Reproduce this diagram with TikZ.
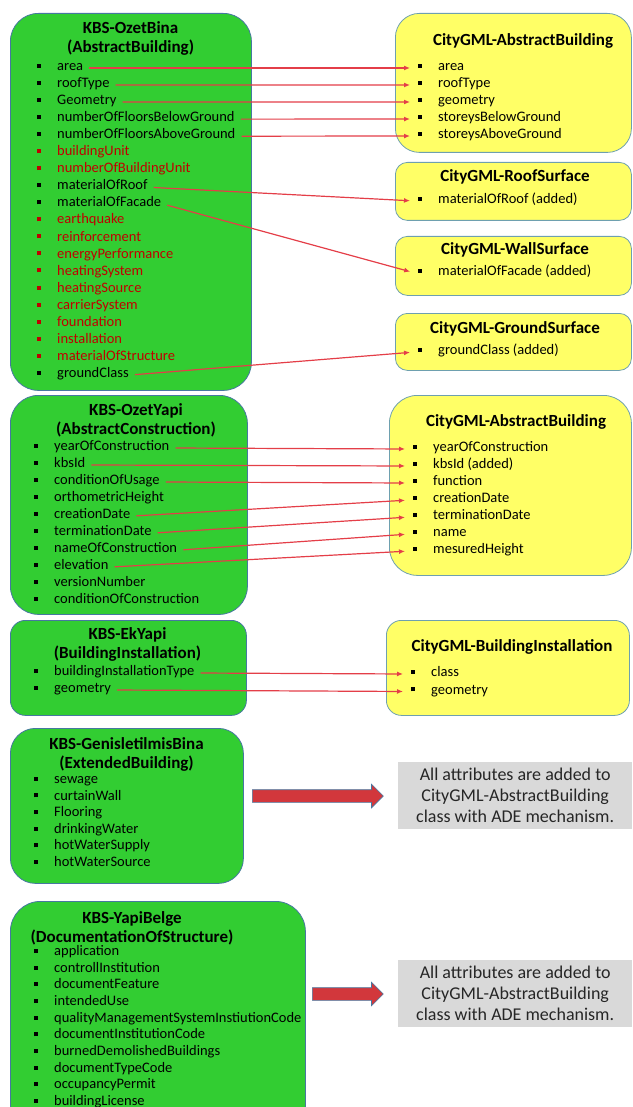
\documentclass[tikz,border=0pt]{standalone}
\usepackage{fontspec}
\setmainfont{Carlito}
\usepackage{xcolor}
\usepackage{tikz}
\usetikzlibrary{arrows.meta,shapes.arrows}

\definecolor{boxgreen}{RGB}{50,205,50}
\definecolor{boxyellow}{RGB}{255,255,102}
\definecolor{edgeblue}{RGB}{70,120,160}
\definecolor{edgeteal}{RGB}{110,160,175}
\definecolor{linkred}{RGB}{228,62,72}
\definecolor{itemred}{RGB}{192,0,0}
\definecolor{notegray}{RGB}{217,217,217}
\definecolor{arrowred}{RGB}{210,55,60}

\newcommand{\sqb}{\rule[0.18em]{4pt}{4pt}\hspace{16pt}}

\begin{document}
\begin{tikzpicture}[x=1pt,y=-1pt,
  kbs/.style={draw=edgeblue, fill=boxgreen, line width=0.8pt, anchor=north west, inner sep=0pt},
  gml/.style={draw=edgeteal, fill=boxyellow, line width=0.8pt, anchor=north west, inner sep=0pt},
  title/.style={align=center, font=\fontsize{17}{19}\selectfont\bfseries, anchor=north, inner sep=0pt},
  attr/.style={anchor=west, inner xsep=3pt, inner ysep=0pt, text height=.72em, text depth=.22em, font=\fontsize{14.5}{17}\selectfont},
  link/.style={draw=linkred, line width=1.2pt, shorten <=3pt, shorten >=5pt, -{Latex[length=6pt,width=5pt]}},
  note/.style={fill=notegray, anchor=north west, minimum width=234pt, minimum height=67pt, align=center, text=black!85, font=\fontsize{18}{21}\selectfont, inner sep=0pt},
  bigarrow/.style={single arrow, draw=edgeblue, fill=arrowred, line width=0.6pt, inner xsep=0pt, inner ysep=6pt, text height=0pt, text depth=0pt, minimum width=23pt, single arrow head extend=5.5pt, single arrow head indent=0pt, anchor=west}
]
\useasboundingbox (0,0) rectangle (632,1107);
\clip (0,0) rectangle (632,1107);

\node[kbs, rounded corners=28pt, minimum width=241pt, minimum height=377pt] (bina) at (10,13) {};
\node[title] (binat) at (130.5,21) {KBS-OzetBina\\(AbstractBuilding)};
\foreach \t/\c [count=\i] in {area/black, roofType/black, Geometry/black, numberOfFloorsBelowGround/black, numberOfFloorsAboveGround/black, buildingUnit/itemred, numberOfBuildingUnit/itemred, materialOfRoof/black, materialOfFacade/black, earthquake/itemred, reinforcement/itemred, energyPerformance/itemred, heatingSystem/itemred, heatingSource/itemred, carrierSystem/itemred, foundation/itemred, installation/itemred, materialOfStructure/itemred, groundClass/black}
  \node[attr, text=\c] (b\i) at (34,{68+17.05*(\i-1)}) {\sqb\t};

\node[gml, rounded corners=24pt, minimum width=236pt, minimum height=139pt] (ab) at (395,13) {};
\node[title] (abt) at (523,33) {CityGML-AbstractBuilding};
\foreach \t [count=\i] in {area, roofType, geometry, storeysBelowGround, storeysAboveGround}
  \node[attr] (g\i) at (415,{68+17*(\i-1)}) {\sqb\t};

\node[gml, rounded corners=12pt, minimum width=236pt, minimum height=58pt] (roof) at (395,162) {};
\node[title] (rooft) at (515,169) {CityGML-RoofSurface};
\node[attr] (r1) at (415,201) {\sqb materialOfRoof (added)};

\node[gml, rounded corners=12pt, minimum width=236pt, minimum height=59pt] (wall) at (395,236) {};
\node[title] (wallt) at (515,242) {CityGML-WallSurface};
\node[attr] (w1) at (415,273) {\sqb materialOfFacade (added)};

\node[gml, rounded corners=12pt, minimum width=236pt, minimum height=57pt] (ground) at (395,313) {};
\node[title] (groundt) at (515,321) {CityGML-GroundSurface};
\node[attr] (s1) at (415,352) {\sqb groundClass (added)};

\node[kbs, rounded corners=28pt, minimum width=237pt, minimum height=219pt] (yapi) at (10,395) {};
\node[title] (yapit) at (136,403) {KBS-OzetYapi\\(AbstractConstruction)};
\foreach \t [count=\i] in {yearOfConstruction, kbsId, conditionOfUsage, orthometricHeight, creationDate, terminationDate, nameOfConstruction, elevation, versionNumber, conditionOfConstruction}
  \node[attr] (y\i) at (31,{448+17*(\i-1)}) {\sqb\t};

\node[gml, rounded corners=28pt, minimum width=242pt, minimum height=180pt] (ab2) at (389,395) {};
\node[title] (ab2t) at (516,414) {CityGML-AbstractBuilding};
\foreach \t [count=\i] in {yearOfConstruction, kbsId (added), function, creationDate, terminationDate, name, mesuredHeight}
  \node[attr] (a\i) at (410,{449+17*(\i-1)}) {\sqb\t};

\node[kbs, rounded corners=15pt, minimum width=236pt, minimum height=95pt] (ek) at (10,620) {};
\node[title] (ekt) at (127.5,627) {KBS-EkYapi\\(BuildingInstallation)};
\foreach \t [count=\i] in {buildingInstallationType, geometry}
  \node[attr] (e\i) at (31,{673+17*(\i-1)}) {\sqb\t};

\node[gml, rounded corners=15pt, minimum width=243pt, minimum height=95pt] (inst) at (386,620) {};
\node[title] (instt) at (512,639) {CityGML-BuildingInstallation};
\foreach \t [count=\i] in {class, geometry}
  \node[attr] (i\i) at (408,{674+17.5*(\i-1)}) {\sqb\t};

\node[kbs, rounded corners=25pt, minimum width=233pt, minimum height=155pt] (gen) at (10,728) {};
\node[title] (gent) at (126.5,737) {KBS-GenisletilmisBina\\(ExtendedBuilding)};
\foreach \t [count=\i] in {sewage, curtainWall, Flooring, drinkingWater, hotWaterSupply, hotWaterSource}
  \node[attr] (x\i) at (31,{781+16.6*(\i-1)}) {\sqb\t};

\node[kbs, rounded corners=30pt, minimum width=295pt, minimum height=240pt] (belge) at (10,901) {};
\node[title] (belget) at (132,911) {KBS-YapiBelge\\(DocumentationOfStructure)};
\foreach \t [count=\i] in {application, controllInstitution, documentFeature, intendedUse, qualityManagementSystemInstiutionCode, documentInstitutionCode, burnedDemolishedBuildings, documentTypeCode, occupancyPermit, buildingLicense}
  \node[attr] (d\i) at (31,{953+16.67*(\i-1)}) {\sqb\t};

\node[note] (n1) at (398,762) {All attributes are added to\\CityGML-AbstractBuilding\\class with ADE mechanism.};
\node[note] (n2) at (398,960) {All attributes are added to\\CityGML-AbstractBuilding\\class with ADE mechanism.};

\node[bigarrow, minimum height=131pt] (ar1) at (252,796) {};
\node[bigarrow, minimum height=71pt] (ar2) at (312,994) {};

\draw[link] (b1.east) -- (g1.west);
\draw[link] (b2.east) -- (g2.west);
\draw[link] (b3.east) -- (g3.west);
\draw[link] (b4.east) -- (g4.west);
\draw[link] (b5.east) -- (g5.west);
\draw[link] (b8.east) -- (r1.west);
\draw[link] (b9.east) -- (w1.west);
\draw[link] (b19.east) -- (s1.west);

\draw[link] (y1.east) -- (a1.west);
\draw[link] (y2.east) -- (a2.west);
\draw[link] (y3.east) -- (a3.west);
\draw[link] (y5.east) -- (a4.west);
\draw[link] (y6.east) -- (a5.west);
\draw[link] (y7.east) -- (a6.west);
\draw[link] (y8.east) -- (a7.west);

\draw[link] (e1.east) -- (i1.west);
\draw[link] (e2.east) -- (i2.west);
\end{tikzpicture}
\end{document}
